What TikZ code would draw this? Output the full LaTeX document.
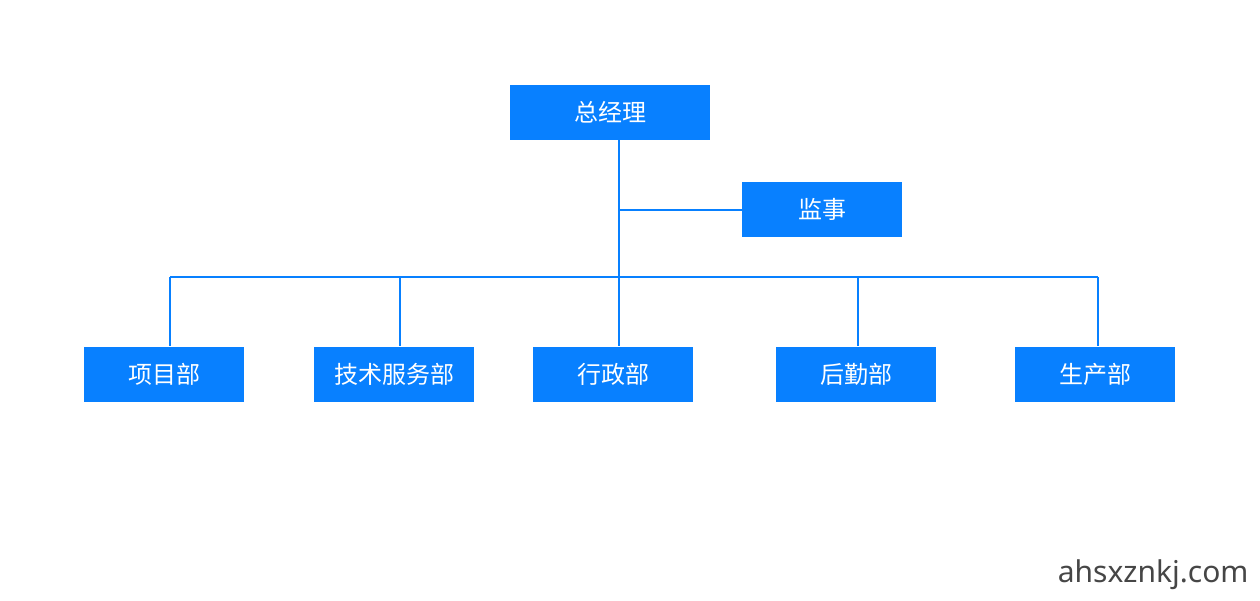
\documentclass[tikz,border=0pt]{standalone}
\usepackage{fontspec}
\setmainfont{Noto Sans CJK SC}
\usepackage{xcolor}
\usetikzlibrary{positioning}
\definecolor{boxblue}{RGB}{8,128,255}
\definecolor{markgray}{RGB}{70,70,70}

\begin{document}
\begin{tikzpicture}[x=1pt,y=-1pt]
    \tikzstyle{dept}=[shape=rectangle,fill=boxblue,text=white,minimum width=160pt,minimum height=55pt,inner sep=0pt,font=\fontsize{24}{24}\selectfont]
    \tikzstyle{link}=[draw=boxblue,line width=1.6pt]
    \useasboundingbox (0,0) rectangle (1260,600);

    \node[dept,minimum width=200pt] (GM) at (610,112) {总经理};
    \node[dept] (JS) at (822,209) {监事};
    \node[dept] (D1) at (164,374) {项目部};
    \node[dept] (D2) at (394,374) {技术服务部};
    \node[dept] (D3) at (613,374) {行政部};
    \node[dept] (D4) at (856,374) {后勤部};
    \node[dept] (D5) at (1095,374) {生产部};

    \coordinate (T1) at (619,210);
    \coordinate (T2) at (619,277);
    \coordinate (B1) at (170,277);
    \coordinate (B2) at (400,277);
    \coordinate (B4) at (858,277);
    \coordinate (B5) at (1098,277);

    \path[link]
    (GM.south -| T2) -- (T2)
    (T1) -- (T1 -| JS.west)
    (B1) -- (B5)
    (B1) -- (B1 |- D1.north)
    (B2) -- (B2 |- D2.north)
    (T2) -- (T2 |- D3.north)
    (B4) -- (B4 |- D4.north)
    (B5) -- (B5 |- D5.north)
   ;

    \node[text=markgray,font=\fontspec{Noto Sans}\fontsize{30}{30}\selectfont,anchor=east] (WM) at (1252,575) {ahsxznkj.com};
\end{tikzpicture}
\end{document}
